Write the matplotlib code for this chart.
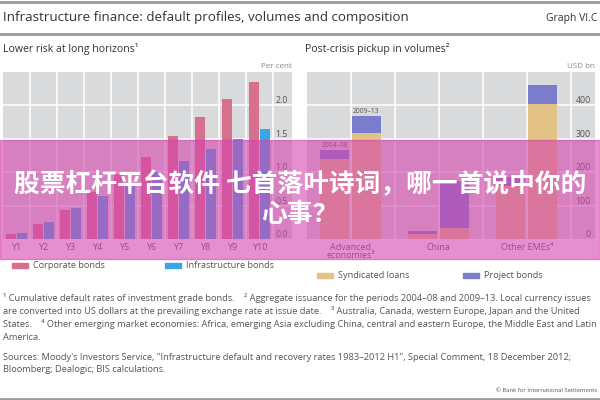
import numpy as np
import matplotlib.pyplot as plt
from matplotlib.patches import Rectangle
from matplotlib.lines import Line2D

plt.rcParams['font.family'] = ['Open Sans', 'DejaVu Sans']

# 数据
years = ['Y1', 'Y2', 'Y3', 'Y4', 'Y5', 'Y6', 'Y7', 'Y8', 'Y9', 'Y10']
corporate = [0.07, 0.22, 0.43, 0.71, 0.98, 1.23, 1.54, 1.82, 2.09, 2.35]
infrastructure = [0.09, 0.25, 0.46, 0.64, 0.82, 1.00, 1.17, 1.34, 1.49, 1.64]
left_ticks = [0.0, 0.5, 1.0, 1.5, 2.0]
left_ticklabels = ['0.0', '0.5', '1.0', '1.5', '2.0']

regions = ['Advanced\neconomies³', 'China', 'Other EMEs⁴']
periods = ['2004–08', '2009–13']
synd_0408 = [239, 15, 160]
bond_0408 = [27, 8, 26]
synd_0913 = [317, 34, 405]
bond_0913 = [50, 140, 55]
right_ticks = [0, 100, 200, 300, 400]
right_ticklabels = ['0', '100', '200', '300', '400']

footnotes = [
    '¹ Cumulative default rates of investment grade bonds.    ² Aggregate issuance for the periods 2004–08 and 2009–13. Local currency issues',
    'are converted into US dollars at the prevailing exchange rate at issue date.    ³ Australia, Canada, western Europe, Japan and the United',
    'States.    ⁴ Other emerging market economies: Africa, emerging Asia excluding China, central and eastern Europe, the Middle East and Latin',
    'America.',
]
sources = [
    'Sources: Moody\'s Investors Service, "Infrastructure default and recovery rates 1983–2012 H1", Special Comment, 18 December 2012;',
    'Bloomberg; Dealogic; BIS calculations.',
]

# 颜色
BG = '#d9dadb'
C_CORP = '#d6708c'
C_INFRA = '#3ba6e2'
C_SYND = '#e2c285'
C_BOND = '#7a7dce'
TXT = '#555555'

fig = plt.figure(figsize=(6, 4), dpi=100)
W, H = 600.0, 400.0


def fx(px):
    return px / W


def fy(py):
    return 1 - py / H


def style_panel(ax, xlim, ylim, vlines, ticks, ticklabels):
    ax.set_facecolor(BG)
    ax.set_xlim(*xlim)
    ax.set_ylim(*ylim)
    for s in ax.spines.values():
        s.set_visible(False)
    ax.set_yticks([])
    ax.tick_params(axis='x', length=0, labelsize=6.5, labelcolor=TXT, pad=3)
    for v in vlines:
        ax.axvline(v, color='white', lw=1.1, zorder=1)
    for t, lab in zip(ticks, ticklabels):
        if t > ylim[0]:
            ax.axhline(t, color='white', lw=1.1, zorder=1)
        ax.text(0.985, t, lab, transform=ax.get_yaxis_transform(), ha='right',
                va='bottom', fontsize=6.3, color=TXT)


# 左图
ax1 = fig.add_axes([fx(3), fy(239), fx(289), (239 - 72) / H])
x = np.arange(len(years))
style_panel(ax1, (-0.5, 10.2), (0, 2.5), np.arange(len(years)) + 0.5,
            left_ticks, left_ticklabels)
ax1.bar(x - 0.2, corporate, width=0.37, color=C_CORP, zorder=2, label='Corporate bonds')
ax1.bar(x + 0.2, infrastructure, width=0.37, color=C_INFRA, zorder=2, label='Infrastructure bonds')
ax1.set_xticks(x)
ax1.set_xticklabels(years)

# 右图
ax2 = fig.add_axes([fx(307), fy(239), fx(288), (239 - 72) / H])
centers = np.arange(len(regions)) * 2 + 1
style_panel(ax2, (0, 6.55), (0, 500), np.arange(1, 7),
            right_ticks, right_ticklabels)
b1 = centers - 0.37
b2 = centers + 0.35
ax2.bar(b1, synd_0408, width=0.66, color=C_SYND, zorder=2, label='Syndicated loans')
ax2.bar(b1, bond_0408, bottom=synd_0408, width=0.66, color=C_BOND, zorder=2, label='Project bonds')
ax2.bar(b2, synd_0913, width=0.66, color=C_SYND, zorder=2)
ax2.bar(b2, bond_0913, bottom=synd_0913, width=0.66, color=C_BOND, zorder=2)
ax2.text(b1[0], synd_0408[0] + bond_0408[0] + 4, periods[0], ha='center', va='bottom',
         fontsize=4.8, color=TXT)
ax2.text(b2[0], synd_0913[0] + bond_0913[0] + 4, periods[1], ha='center', va='bottom',
         fontsize=4.8, color=TXT)
ax2.set_xticks(centers)
ax2.set_xticklabels(regions, linespacing=0.9)

# 图例
def legend_item(px, py, color, label):
    fig.add_artist(Rectangle((fx(px), fy(py + 2.5)), fx(16), 5 / H, color=color,
                             transform=fig.transFigure))
    fig.text(fx(px + 21), fy(py), label, fontsize=6.6, color=TXT, va='center')


legend_item(12, 265, C_CORP, 'Corporate bonds')
legend_item(165, 265, C_INFRA, 'Infrastructure bonds')
legend_item(317, 275, C_SYND, 'Syndicated loans')
legend_item(463, 275, C_BOND, 'Project bonds')

# 标题和分隔线
for ypx in (1.5, 34, 398.5):
    fig.add_artist(Line2D([0, 1], [fy(ypx), fy(ypx)], color='#9a9a9a', lw=2,
                          transform=fig.transFigure))
fig.text(fx(3), fy(18), 'Infrastructure finance: default profiles, volumes and composition',
         fontsize=9.6, color='#333333', va='center')
fig.text(fx(597), fy(18), 'Graph VI.C', fontsize=7.5, color='#333333', va='center', ha='right')
fig.text(fx(3), fy(49), 'Lower risk at long horizons¹', fontsize=7.6, color='#333333', va='center')
fig.text(fx(305), fy(49), 'Post-crisis pickup in volumes²', fontsize=7.6, color='#333333', va='center')
fig.text(fx(292), fy(66), 'Per cent', fontsize=5.8, color='#888888', va='center', ha='right')
fig.text(fx(595), fy(66), 'USD bn', fontsize=5.8, color='#888888', va='center', ha='right')

for i, line in enumerate(footnotes):
    fig.text(fx(3), fy(298 + i * 13), line, fontsize=6.7, color=TXT, va='center')
for i, line in enumerate(sources):
    fig.text(fx(3), fy(357 + i * 13), line, fontsize=6.7, color=TXT, va='center')
fig.text(fx(597), fy(390), '© Bank for International Settlements', fontsize=4.2, color=TXT,
         va='center', ha='right')

# 粉色横幅
fig.add_artist(Rectangle((0, fy(259)), 1, 119 / H, color='#d544af', alpha=0.6,
                         transform=fig.transFigure, zorder=10))
cjk = ['Noto Sans CJK SC', 'DejaVu Sans']
fig.text(0.5, fy(185), '股票杠杆平台软件 七首落叶诗词，哪一首说中你的', family=cjk,
         fontsize=18.5, fontweight='bold', color='white', ha='center', va='center', zorder=11)
fig.text(0.5, fy(215), '心事？', family=cjk, fontsize=18.5, fontweight='bold',
         color='white', ha='center', va='center', zorder=11)

fig.savefig('out.png', dpi=100)
